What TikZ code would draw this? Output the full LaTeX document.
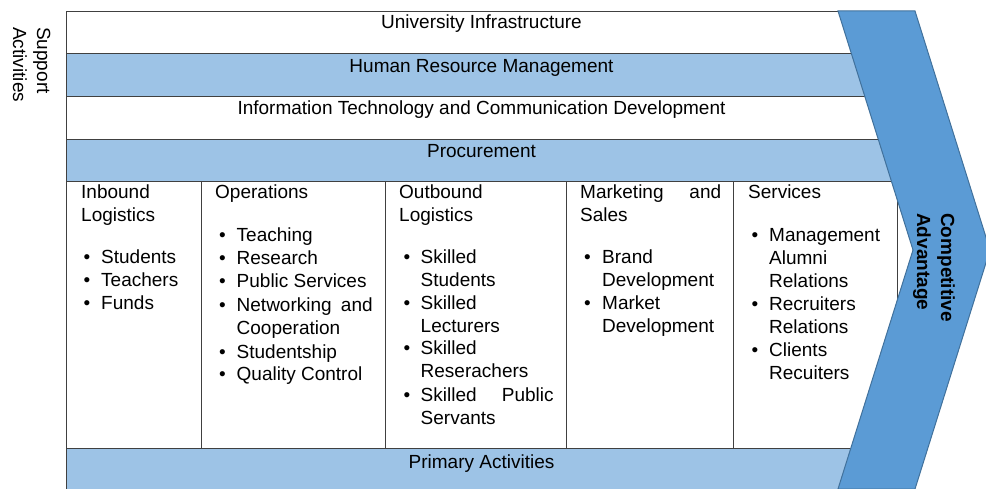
\documentclass[tikz,border=0pt]{standalone}
\usepackage{fontspec}
\setmainfont{Liberation Sans}
\definecolor{bandblue}{HTML}{9DC3E6}
\definecolor{chevfill}{HTML}{5B9BD5}
\definecolor{chevline}{HTML}{41719C}
\definecolor{gridline}{HTML}{404040}
\begin{document}
\begin{tikzpicture}[x=1pt,y=-1pt,
  txt/.style={font=\fontsize{19}{23}\selectfont, inner sep=0pt, anchor=base west},
  ctxt/.style={txt, anchor=base},
  bul/.style={txt, anchor=base},
  vtxt/.style={txt, rotate=-90},
  cell/.style={draw=gridline, line width=0.8pt},
  band/.style={cell, fill=bandblue},
  wband/.style={cell, fill=white},
  chev/.style={draw=chevline, line width=1pt, fill=chevfill, line join=miter}]
\useasboundingbox (0,0) rectangle (986,489);

% support activity bands
\draw[wband] (66,11) rectangle (897,53);
\draw[band] (66,53) rectangle (897,96.5);
\draw[wband] (66,96.5) rectangle (897,139.5);
\draw[band] (66,139.5) rectangle (897,181.5);
% primary columns
\draw[wband] (66,181.5) rectangle (201.5,448);
\draw[wband] (201.5,181.5) rectangle (385,448);
\draw[wband] (385,181.5) rectangle (566,448);
\draw[wband] (566,181.5) rectangle (733.5,448);
\draw[wband] (733.5,181.5) rectangle (897,448);
% primary activities band
\fill[bandblue] (66,448) rectangle (897,489);
\draw[cell] (897,448) -- (66,448) -- (66,489);

\node[ctxt] (ui) at (481.5,29) {University Infrastructure};
\node[ctxt] (hrm) at (481.5,73) {Human Resource Management};
\node[ctxt] (itc) at (481.5,115) {Information Technology and Communication Development};
\node[ctxt] (proc) at (481.5,158) {Procurement};
\node[ctxt] (pa) at (481.5,468) {Primary Activities};

\node[vtxt] (sup1) at (37,27) {Support};
\node[vtxt] (sup2) at (13,27) {Activities};

% Inbound Logistics
\node[txt] (in1) at (81,199) {Inbound};
\node[txt] (in2) at (81,222) {Logistics};
\node[bul] (inb1) at (87,264) {•};
\node[txt] (ini1) at (101,264) {Students};
\node[bul] (inb2) at (87,287) {•};
\node[txt] (ini2) at (101,287) {Teachers};
\node[bul] (inb3) at (87,310) {•};
\node[txt] (ini3) at (101,310) {Funds};

% Operations
\node[txt] (op1) at (215,199) {Operations};
\node[bul] (opb1) at (222.5,242) {•};
\node[txt] (opi1) at (236.5,242) {Teaching};
\node[bul] (opb2) at (222.5,265) {•};
\node[txt] (opi2) at (236.5,265) {Research};
\node[bul] (opb3) at (222.5,288) {•};
\node[txt] (opi3) at (236.5,288) {Public Services};
\node[bul] (opb4) at (222.5,311.5) {•};
\node[txt] (opi4) at (236.5,311.5) {\makebox[136pt][l]{Networking\hfill and}};
\node[txt] (opi4b) at (236.5,334.5) {Cooperation};
\node[bul] (opb5) at (222.5,358) {•};
\node[txt] (opi5) at (236.5,358) {Studentship};
\node[bul] (opb6) at (222.5,381) {•};
\node[txt] (opi6) at (236.5,381) {Quality Control};

% Outbound Logistics
\node[txt] (ou1) at (399,199) {Outbound};
\node[txt] (ou2) at (399,222) {Logistics};
\node[bul] (oub1) at (407,264) {•};
\node[txt] (oui1) at (420.5,264) {Skilled};
\node[txt] (oui1b) at (420.5,286.5) {Students};
\node[bul] (oub2) at (407,309.5) {•};
\node[txt] (oui2) at (420.5,309.5) {Skilled};
\node[txt] (oui2b) at (420.5,332) {Lecturers};
\node[bul] (oub3) at (407,355) {•};
\node[txt] (oui3) at (420.5,355) {Skilled};
\node[txt] (oui3b) at (420.5,377.5) {Reserachers};
\node[bul] (oub4) at (407,401) {•};
\node[txt] (oui4) at (420.5,401) {\makebox[133pt][l]{Skilled\hfill Public}};
\node[txt] (oui4b) at (420.5,424) {Servants};

% Marketing and Sales
\node[txt] (ms1) at (580,199) {\makebox[141pt][l]{Marketing\hfill and}};
\node[txt] (ms2) at (580,222) {Sales};
\node[bul] (msb1) at (587.5,264) {•};
\node[txt] (msi1) at (602,264) {Brand};
\node[txt] (msi1b) at (602,287) {Development};
\node[bul] (msb2) at (587.5,310) {•};
\node[txt] (msi2) at (602,310) {Market};
\node[txt] (msi2b) at (602,333) {Development};

% Services
\node[txt] (se1) at (748,199) {Services};
\node[bul] (seb1) at (755,242) {•};
\node[txt] (sei1) at (769,242) {Management};
\node[txt] (sei1b) at (769,264.5) {Alumni};
\node[txt] (sei1c) at (769,287.5) {Relations};
\node[bul] (seb2) at (755,310.5) {•};
\node[txt] (sei2) at (769,310.5) {Recruiters};
\node[txt] (sei2b) at (769,333.5) {Relations};
\node[bul] (seb3) at (755,356.5) {•};
\node[txt] (sei3) at (769,356.5) {Clients};
\node[txt] (sei3b) at (769,379) {Recuiters};

% Competitive advantage chevron
\draw[chev] (838,11) -- (915,11) -- (990,250) -- (915,489) -- (838,489) -- (913,250) -- cycle;
\node[vtxt, font=\fontsize{19}{23}\selectfont\bfseries] (ca1) at (941,213) {Competitive};
\node[vtxt, font=\fontsize{19}{23}\selectfont\bfseries] (ca2) at (917,213) {Advantage};
\end{tikzpicture}
\end{document}
